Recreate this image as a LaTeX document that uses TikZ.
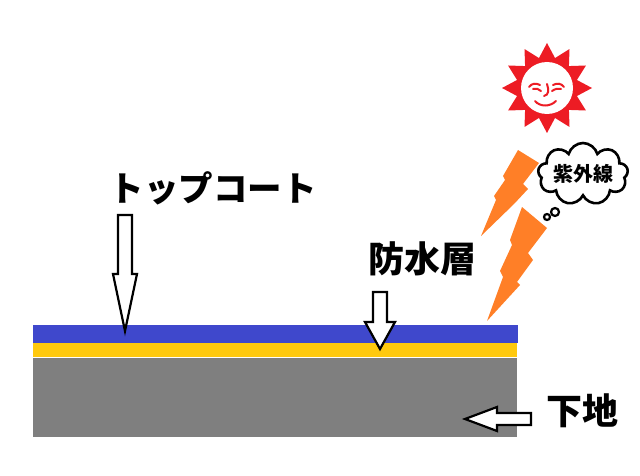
\documentclass[tikz,border=0pt]{standalone}
\usepackage{fontspec}
\newfontfamily\jpfont{Noto Sans CJK JP}
\usetikzlibrary{shapes.symbols}
\definecolor{coatblue}{HTML}{3F48CC}
\definecolor{sealyellow}{HTML}{FFC90E}
\definecolor{basegray}{HTML}{7F7F7F}
\definecolor{boltorange}{HTML}{FF7F27}
\definecolor{sunred}{HTML}{ED1C24}

\begin{document}
\begin{tikzpicture}[x=1pt, y=-1pt, line join=miter,
	jplabel/.style={font=\jpfont\bfseries\fontsize{#1}{#1}\selectfont, inner sep=0pt},
	hollowarrow/.style={draw=black, fill=white, line width=2.2pt},
	facestroke/.style={draw=sunred, line width=2pt, line cap=round}]
\useasboundingbox (0,0) rectangle (640,476);
%========================
% Layers
%========================
\fill[basegray] (33,358) rectangle (517,437);
\fill[sealyellow] (33,343) rectangle (517,357);
\fill[coatblue] (33,325) rectangle (518,343);
% marks on the layers
\coordinate (coat mark) at (125,331);
\coordinate (seal mark) at (380,349);
\coordinate (base mark) at (465,419);

%========================
% Labels and arrows
%========================
\node[jplabel=34.5] (topcoat) at (213,188) {トップコート};
\node[jplabel=36] (sealer) at (422,259) {防水層};
\node[jplabel=36] (base) at (582,411) {下地};
\draw[hollowarrow] (coat mark) -- ++(12,-57) -- ++(-5,0) -- ++(0,-59) -- ++(-14,0)
	-- ++(0,59) -- ++(-5,0) -- cycle;
\draw[hollowarrow] (seal mark) -- ++(15,-27) -- ++(-8,0) -- ++(0,-30) -- ++(-14,0)
	-- ++(0,30) -- ++(-8,0) -- cycle;
\draw[hollowarrow] (base mark) -- ++(32,-12) -- ++(0,6) -- ++(34,0) -- ++(0,12)
	-- ++(-34,0) -- ++(0,6) -- cycle;

%========================
% Sun
%========================
\begin{scope}[shift={(547,88)}]
	\fill[sunred] (90:45pt) \foreach \k in {0,...,11} {-- ({90+30*\k}:45pt) -- ({105+30*\k}:31pt)} -- cycle;
	\fill[white] (0,0) circle (26pt);
\end{scope}
% face
\draw[facestroke] (529,87) .. controls (532,83) and (536,83) .. (540,85);
\draw[facestroke] (533,89) .. controls (536,88) and (539,89) .. (541,91);
\draw[facestroke] (553,85) .. controls (557,83) and (561,83) .. (564,87);
\draw[facestroke] (552,91) .. controls (555,89) and (558,88) .. (561,89);
\draw[facestroke] (547,84) .. controls (549,90) and (549,95) .. (544,96);
\draw[facestroke] (535,101) .. controls (540,107) and (550,107) .. (556,101);

%========================
% UV bolts
%========================
\fill[boltorange] (518,150) -- (539,163) -- (523,184) -- (528,189) -- (514,204)
	-- (481,236) -- (496,200) -- (494,196) -- (505,180) -- (503,176) -- cycle;
\fill[boltorange] (522,207) -- (547,228) -- (528,253) -- (533,260) -- (517,282)
	-- (520,285) -- (487,321) -- (503,277) -- (500,271) -- (512,245) -- (510,240) -- cycle;

% thought cloud
\node[cloud, draw, line width=2.6pt, cloud puffs=9, cloud ignores aspect,
	minimum width=90pt, minimum height=62pt, jplabel=20] (uv) at (583,174) {紫外線};
\draw[line width=2.2pt] (555,212) circle (4pt);
\draw[line width=2.2pt] (547,217) circle (3pt);
\end{tikzpicture}
\end{document}
